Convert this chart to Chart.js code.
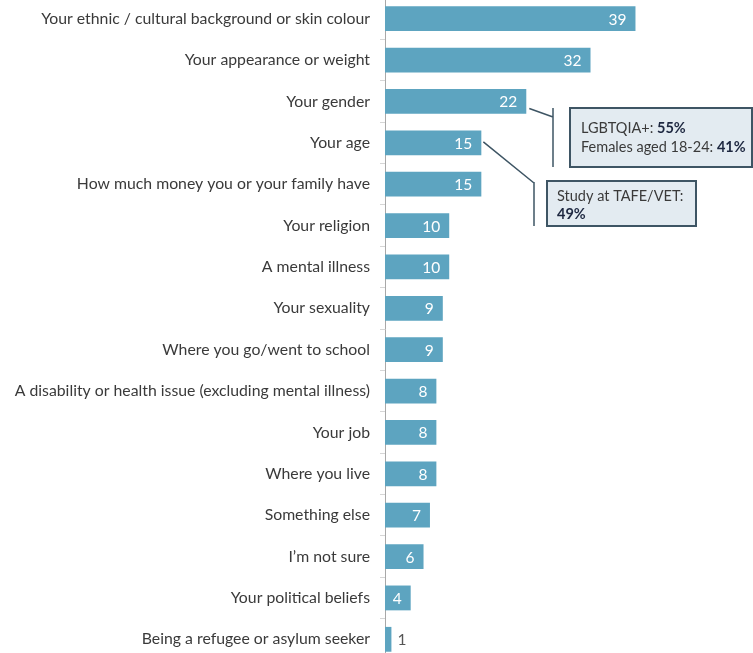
<!DOCTYPE html>
<html>
<head>
<meta charset="utf-8">
<script src="https://cdn.jsdelivr.net/npm/chart.js@4"></script>
<style>
  html, body { margin: 0; padding: 0; background: #fff; overflow: hidden; }
  #wrap { position: absolute; left: 0; top: -2px; width: 753px; height: 662px; }
</style>
</head>
<body>
<div id="wrap"><canvas id="chart"></canvas></div>
<script>
const categories = [
  'Your ethnic / cultural background or skin colour',
  'Your appearance or weight',
  'Your gender',
  'Your age',
  'How much money you or your family have',
  'Your religion',
  'A mental illness',
  'Your sexuality',
  'Where you go/went to school',
  'A disability or health issue (excluding mental illness)',
  'Your job',
  'Where you live',
  'Something else',
  'I\u2019m not sure',
  'Your political beliefs',
  'Being a refugee or asylum seeker'
];
const values = [39, 32, 22, 15, 15, 10, 10, 9, 9, 8, 8, 8, 7, 6, 4, 1];

// callout texts: [regular, bold] pairs per line
const calloutGender = [['LGBTQIA+: ', '55%'], ['Females aged 18-24: ', '41%']];
const calloutAge = [['Study at TAFE/VET:', ''], ['', '49%']];

const SHIFT = 2; // canvas is shifted up by 2px
const FONT = 'Lato, "Open Sans", sans-serif';

const valueLabels = {
  id: 'valueLabels',
  afterDatasetsDraw(chart) {
    const ctx = chart.ctx;
    const meta = chart.getDatasetMeta(0);
    ctx.save();
    ctx.font = '15.5px ' + FONT;
    ctx.textBaseline = 'middle';
    meta.data.forEach((bar, i) => {
      const txt = String(values[i]);
      const w = ctx.measureText(txt).width;
      if (bar.x - bar.base > w + 14) {
        ctx.fillStyle = '#ffffff';
        ctx.textAlign = 'right';
        ctx.fillText(txt, bar.x - 9, bar.y + 1);
      } else {
        ctx.fillStyle = '#555555';
        ctx.textAlign = 'left';
        ctx.fillText(txt, bar.x + 6, bar.y + 1);
      }
    });
    ctx.restore();
  }
};

function drawBox(ctx, x, y, w, h, lines, tx, ty, lh) {
  ctx.fillStyle = '#e3ebf1';
  ctx.fillRect(x, y, w, h);
  ctx.strokeStyle = '#3e5564';
  ctx.lineWidth = 2;
  ctx.strokeRect(x, y, w, h);
  ctx.textBaseline = 'middle';
  ctx.textAlign = 'left';
  lines.forEach((ln, i) => {
    let cx = tx;
    const cy = ty + i * lh;
    ctx.font = '14.5px ' + FONT;
    ctx.fillStyle = '#3a3a3a';
    ctx.fillText(ln[0], cx, cy);
    cx += ctx.measureText(ln[0]).width;
    ctx.font = 'bold 14.5px ' + FONT;
    ctx.fillStyle = '#1d2740';
    ctx.fillText(ln[1], cx, cy);
  });
}

const callouts = {
  id: 'callouts',
  afterDraw(chart) {
    const ctx = chart.ctx;
    const meta = chart.getDatasetMeta(0);
    const g = meta.data[2];
    const a = meta.data[3];
    ctx.save();
    ctx.strokeStyle = '#3e5564';
    ctx.lineWidth = 1.5;
    // gender bracket
    ctx.beginPath();
    ctx.moveTo(g.x + 3, g.y + 7);
    ctx.lineTo(553, 117 + SHIFT);
    ctx.moveTo(553, 108 + SHIFT);
    ctx.lineTo(553, 167 + SHIFT);
    // age bracket
    ctx.moveTo(a.x + 2, a.y - 1);
    ctx.lineTo(534, 183 + SHIFT);
    ctx.moveTo(534, 182 + SHIFT);
    ctx.lineTo(534, 226 + SHIFT);
    ctx.stroke();
    drawBox(ctx, 570, 108 + SHIFT, 182, 59, calloutGender, 581, 128 + SHIFT, 19);
    drawBox(ctx, 547, 181 + SHIFT, 149, 45, calloutAge, 557, 196 + SHIFT, 18);
    ctx.restore();
  }
};

new Chart(document.getElementById('chart'), {
  type: 'bar',
  data: {
    labels: categories,
    datasets: [{
      data: values,
      backgroundColor: '#5da4c0',
      barPercentage: 0.6,
      categoryPercentage: 1.0
    }]
  },
  options: {
    indexAxis: 'y',
    responsive: true,
    maintainAspectRatio: false,
    animation: false,
    layout: { padding: 0 },
    plugins: { legend: { display: false }, tooltip: { enabled: false } },
    scales: {
      x: { display: false, min: 0, max: 57.3 },
      y: {
        afterFit(scale) {
          scale.width = 385;
          scale.paddingTop = 0;
          scale.paddingBottom = 0;
        },
        grid: { offset: true, drawOnChartArea: false, tickLength: 5, color: '#d6d6d6' },
        border: { color: '#a8a8a8', width: 1 },
        ticks: { padding: 10, color: '#3a3a3a', font: { family: FONT, size: 15.8 } }
      }
    }
  },
  plugins: [valueLabels, callouts]
});
</script>
</body>
</html>
